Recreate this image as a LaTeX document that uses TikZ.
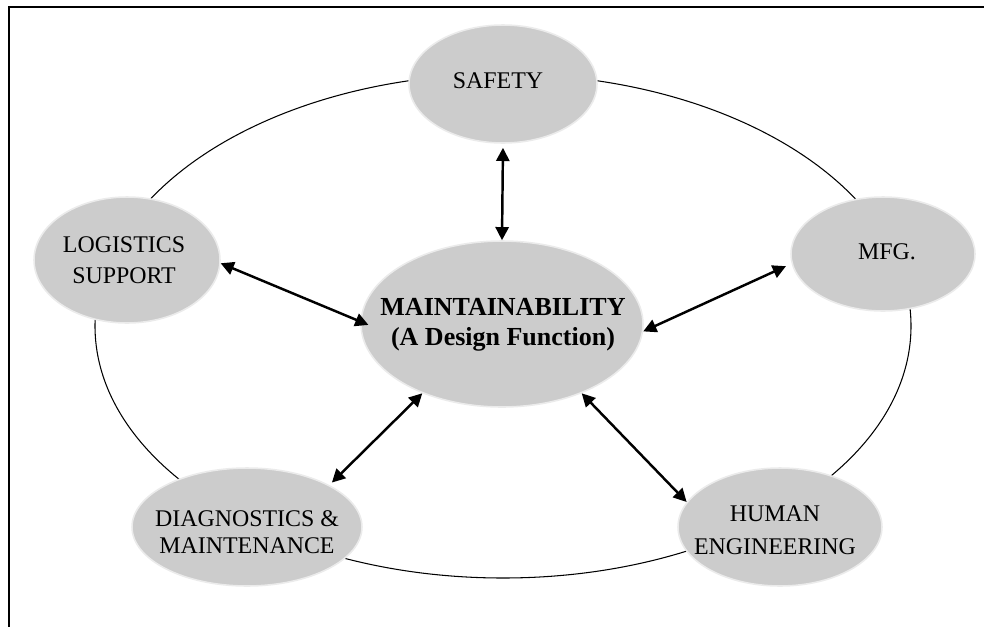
\documentclass[tikz,border=0pt]{standalone}
\usepackage{fontspec}
\setmainfont{Liberation Serif}
\usetikzlibrary{shapes.geometric,arrows.meta}
\tikzset{
  px/.style={x=0.02cm,y=-0.02cm},
  bubble/.style={ellipse,fill=black!20,draw=black!8,line width=0.9pt,inner sep=0pt},
  caption/.style={inner sep=0pt,align=center,font=\fontsize{13.6}{17.5}\selectfont},
  link/.style={line width=1.4pt,{Triangle[length=7.5pt,width=7.5pt]}-{Triangle[length=7.5pt,width=7.5pt]}},
  ring/.style={line width=0.6pt},
  frame/.style={line width=1pt}
}
\begin{document}
\begin{tikzpicture}[px]
\useasboundingbox (0,0) rectangle (984,626);
\draw[frame] (9,640) -- (9,7) -- (1000,7);
\draw[ring] (503,326) ellipse [x radius=408, y radius=252];
\node[bubble,minimum width=3.76cm,minimum height=2.36cm] (safety) at (503,84) {};
\node[bubble,minimum width=3.72cm,minimum height=2.52cm] (log) at (127,260) {};
\node[bubble,minimum width=3.68cm,minimum height=2.28cm] (mfg) at (883,254) {};
\node[bubble,minimum width=5.64cm,minimum height=3.32cm] (main) at (502,324) {};
\node[bubble,minimum width=4.6cm,minimum height=2.36cm] (diag) at (247,527) {};
\node[bubble,minimum width=4.08cm,minimum height=2.36cm] (human) at (780,527) {};
\node[caption] (safetyT) at (498,81) {SAFETY};
\node[caption] (logT) at (124,260) {LOGISTICS\\SUPPORT};
\node[caption] (mfgT) at (887,252) {MFG.};
\node[caption,font=\fontsize{14.8}{17}\selectfont\bfseries] (mainT) at (503,325) {MAINTAINABILITY\\(A Design Function)};
\node[caption,font=\fontsize{13.6}{15}\selectfont] (diagT) at (247,532) {DIAGNOSTICS \&\\MAINTENANCE};
\node[caption,font=\fontsize{13.6}{18.5}\selectfont] (humanT) at (775,530) {HUMAN\\ENGINEERING};
\draw[link,shorten <=2.3pt] (safety.south) -- (main.north);
\draw[link,shorten >=-5pt] (log.-2) -- (main.179);
\draw[link,shorten <=3.5pt] (mfg.186) -- (main.-3.7);
\draw[link,shorten <=2pt] (diag.27) -- (main.221);
\draw[link] (human.165) -- (main.-41.5);
\end{tikzpicture}
\end{document}
